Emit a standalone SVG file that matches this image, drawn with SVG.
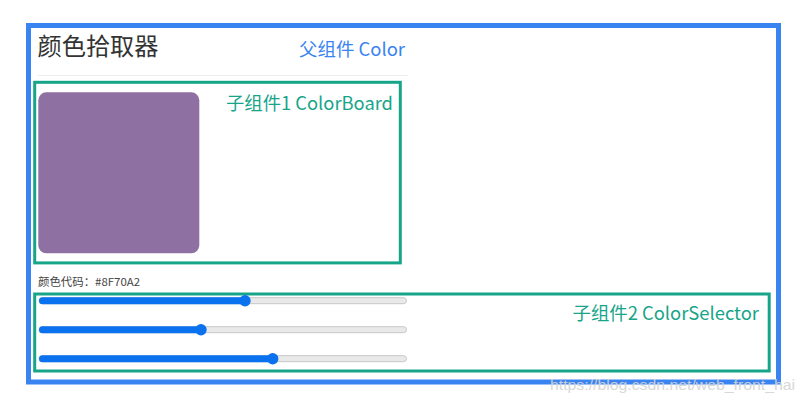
<svg xmlns="http://www.w3.org/2000/svg" width="804" height="404" viewBox="0 0 804 404">
<style>
.cjk{font-family:"Noto Sans CJK SC","Noto Sans",sans-serif}
.grn{fill:none;stroke:#17a589;stroke-width:3}
.glab{fill:#17a589;font-size:18px}
.track{fill:#e9e9e9;stroke:#c8c8c8;stroke-width:1}
.fill{fill:#0b72ef}
.thumb{fill:#0b72ef}
</style>
<rect width="804" height="404" fill="#fff"/>
<g id="parent">
<rect x="28.5" y="25.5" width="750" height="356.5" fill="none" stroke="#3a84f2" stroke-width="5"/>
<text class="cjk" x="37.5" y="55" font-size="24" fill="#333" textLength="121" lengthAdjust="spacingAndGlyphs">颜色拾取器</text>
<text class="cjk" x="299" y="56" font-size="18" fill="#3a84f2" textLength="106" lengthAdjust="spacingAndGlyphs">父组件 Color</text>
<line x1="38" y1="75.5" x2="408" y2="75.5" stroke="#eeeeee" stroke-width="1"/>
<text class="cjk" x="38" y="286" font-size="11" fill="#444" textLength="102" lengthAdjust="spacingAndGlyphs">颜色代码：#8F70A2</text>
</g>
<g id="colorboard">
<rect class="grn" x="34.7" y="82.3" width="365.6" height="180.6"/>
<rect x="38.3" y="92.3" width="161" height="161" rx="8" fill="#8f70a2"/>
<text class="cjk glab" x="226" y="110" textLength="167" lengthAdjust="spacingAndGlyphs">子组件1 ColorBoard</text>
</g>
<g id="colorselector">
<rect class="grn" x="34.7" y="294" width="734.5" height="77"/>
<text class="cjk glab" x="572.5" y="320" textLength="186.5" lengthAdjust="spacingAndGlyphs">子组件2 ColorSelector</text>
<g id="slider-r">
<rect class="track" x="39" y="297.7" width="367.5" height="6" rx="3"/>
<rect class="fill" x="39" y="297.2" width="206" height="7" rx="3.5"/>
<circle class="thumb" cx="245" cy="300.7" r="5.7"/>
</g>
<g id="slider-g">
<rect class="track" x="39" y="326.7" width="367.5" height="6" rx="3"/>
<rect class="fill" x="39" y="326.2" width="162" height="7" rx="3.5"/>
<circle class="thumb" cx="201" cy="329.7" r="5.7"/>
</g>
<g id="slider-b">
<rect class="track" x="39" y="355.7" width="367.5" height="6" rx="3"/>
<rect class="fill" x="39" y="355.2" width="233.5" height="7" rx="3.5"/>
<circle class="thumb" cx="272.7" cy="358.7" r="5.7"/>
</g>
</g>
<text x="550" y="390" font-family="Liberation Sans, Arial, sans-serif" font-size="15" fill="#d4d4d4" opacity="0.9" textLength="245" lengthAdjust="spacingAndGlyphs">https://blog.csdn.net/web_front_hai</text>
</svg>
